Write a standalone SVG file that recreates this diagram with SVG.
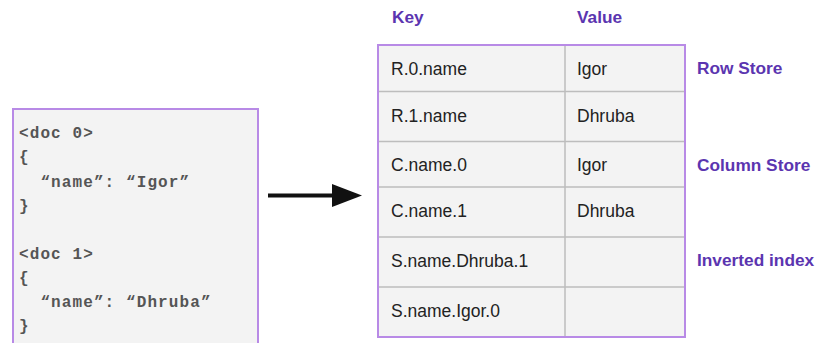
<svg xmlns="http://www.w3.org/2000/svg" width="817" height="343" viewBox="0 0 817 343">
  <style>
    .code { font-family: "Liberation Mono", "Courier New", monospace; font-weight: bold; font-size: 16px; letter-spacing: 1.1px; fill: #555555; white-space: pre; }
    .cell { font-family: "Liberation Sans", Arial, sans-serif; font-size: 17.5px; fill: #222222; }
    .head { font-family: "Liberation Sans", Arial, sans-serif; font-weight: bold; font-size: 17.3px; fill: #5b35b0; }
    .frame { fill: #f3f3f3; stroke: #b88ae6; stroke-width: 2; }
    .grid { stroke: #bdbdbd; stroke-width: 1.5; fill: none; }
  </style>
  <rect width="817" height="343" fill="#ffffff"/>

  <!-- source documents -->
  <g id="documents">
    <rect class="frame" x="13" y="109" width="245" height="245"/>
    <text class="code" x="19" y="138">&lt;doc 0&gt;</text>
    <text class="code" x="19" y="162">{</text>
    <text class="code" x="19" y="187">  “name”: “Igor”</text>
    <text class="code" x="19" y="211">}</text>
    <text class="code" x="19" y="259">&lt;doc 1&gt;</text>
    <text class="code" x="19" y="283">{</text>
    <text class="code" x="19" y="307">  “name”: “Dhruba”</text>
    <text class="code" x="19" y="331">}</text>
  </g>

  <!-- connectors -->
  <g id="connectors">
    <line x1="268" y1="195.5" x2="334" y2="195.5" stroke="#111111" stroke-width="4"/>
    <polygon points="332,184 362,195.5 332,207" fill="#111111"/>
  </g>

  <!-- key/value table -->
  <g id="kv-table">
    <text class="head" x="392" y="23">Key</text>
    <text class="head" x="577" y="23">Value</text>
    <rect x="378" y="45" width="307" height="292" fill="#f3f3f3"/>
    <path class="grid" d="M565 45V337 M378 91.5H685 M378 141.5H685 M378 187H685 M378 237H685 M378 287H685"/>
    <rect x="378" y="45" width="307" height="292" fill="none" stroke="#b88ae6" stroke-width="2"/>

    <g id="row-r0">
      <text class="cell" x="391" y="75">R.0.name</text>
      <text class="cell" x="577" y="75">Igor</text>
    </g>
    <g id="row-r1">
      <text class="cell" x="391" y="122">R.1.name</text>
      <text class="cell" x="577" y="122">Dhruba</text>
    </g>
    <g id="row-c0">
      <text class="cell" x="391" y="171">C.name.0</text>
      <text class="cell" x="577" y="171">Igor</text>
    </g>
    <g id="row-c1">
      <text class="cell" x="391" y="217">C.name.1</text>
      <text class="cell" x="577" y="217">Dhruba</text>
    </g>
    <g id="row-s1">
      <text class="cell" x="391" y="267">S.name.Dhruba.1</text>
    </g>
    <g id="row-s0">
      <text class="cell" x="391" y="317">S.name.Igor.0</text>
    </g>
  </g>

  <!-- section labels -->
  <g id="labels">
    <text class="head" x="697" y="74">Row Store</text>
    <text class="head" x="697" y="171">Column Store</text>
    <text class="head" x="697" y="266">Inverted index</text>
  </g>
</svg>
